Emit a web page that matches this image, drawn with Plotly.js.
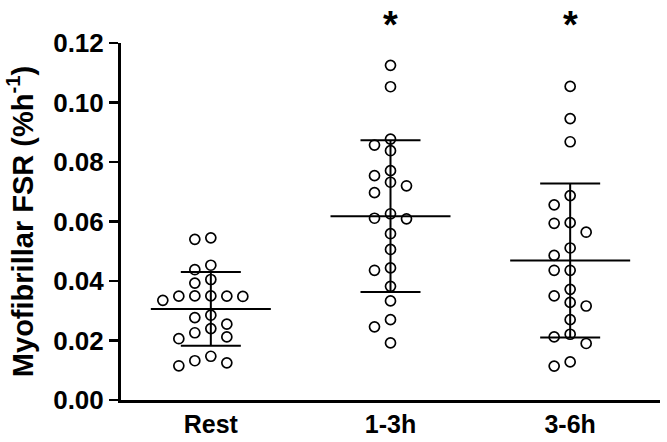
<!DOCTYPE html>
<html>
<head>
<meta charset="utf-8">
<script src="https://cdn.plot.ly/plotly-3.0.1.min.js"></script>
<style>html,body{margin:0;padding:0;background:#fff;}#chart{width:667px;height:442px;}</style>
</head>
<body>
<div id="chart"></div>
<script>
// ---- data ----
const categories = ["Rest", "1-3h", "3-6h"];
const restValues = [0.0545, 0.0540, 0.0453, 0.0438, 0.0405, 0.0393, 0.0349, 0.0349, 0.0348, 0.0350, 0.0350, 0.0335,
  0.0285, 0.0277, 0.0255, 0.0240, 0.0226, 0.0212, 0.0206, 0.0147, 0.0132, 0.0125, 0.0115];
const earlyValues = [0.1125, 0.1053, 0.0877, 0.0857, 0.0838, 0.0771, 0.0754, 0.0732, 0.0720, 0.0697, 0.0626,
  0.0611, 0.0609, 0.0559, 0.0506, 0.0444, 0.0436, 0.0382, 0.0333, 0.0270, 0.0246, 0.0192];
const lateValues = [0.1054, 0.0946, 0.0868, 0.0687, 0.0656, 0.0596, 0.0594, 0.0564, 0.0511, 0.0486, 0.0436,
  0.0436, 0.0372, 0.0350, 0.0328, 0.0316, 0.0270, 0.0221, 0.0212, 0.0190, 0.0128, 0.0114];
const means = [0.0306, 0.0618, 0.0469];
const sds = [0.0124, 0.0255, 0.0259];
const significance = ["", "*", "*"];
const yTicks = [0, 0.02, 0.04, 0.06, 0.08, 0.10, 0.12];

// ---- layout geometry (px) ----
const W = 667, H = 442;
const M = {l: 121, r: 7, t: 43, b: 42};
const xRange = [-0.5, 2.5];
const yRange = [0, 0.12];
const plotW = W - M.l - M.r, plotH = H - M.t - M.b;
const pxPerX = plotW / (xRange[1] - xRange[0]);
const pxPerY = plotH / (yRange[1] - yRange[0]);
const slotPx = 16, minGapPx = 11.5;

// greedy beeswarm: offsets computed from values via the axis scales
function swarm(values, center) {
  const order = values.map((v, i) => i).sort((a, b) => values[b] - values[a]);
  const placed = [];
  const xs = new Array(values.length);
  order.forEach(i => {
    const y = values[i] * pxPerY;
    for (let n = 0; n < 20; n++) {
      const k = n === 0 ? 0 : (n % 2 === 1 ? -Math.ceil(n / 2) : Math.ceil(n / 2));
      const clash = placed.some(p => p.k === k && Math.abs(p.y - y) < minGapPx);
      if (!clash) { placed.push({k, y}); xs[i] = center + k * slotPx / pxPerX; break; }
    }
  });
  return xs;
}

const groups = [restValues, earlyValues, lateValues];
const font = "Liberation Sans, Arial, Helvetica, sans-serif";
const traces = [];

groups.forEach((vals, g) => {
  traces.push({
    type: "scatter", mode: "markers", x: swarm(vals, g), y: vals,
    marker: {symbol: "circle-open", size: 10, color: "#000", line: {width: 1.7, color: "#000"}},
    hoverinfo: "y", showlegend: false, cliponaxis: false
  });
});

// SD bars
traces.push({
  type: "scatter", mode: "markers", x: [0, 1, 2], y: means,
  marker: {size: 1, color: "rgba(0,0,0,0)"},
  error_y: {type: "data", array: sds, visible: true, color: "#000", thickness: 2, width: 30},
  showlegend: false, hoverinfo: "skip"
});
// mean lines
const halfMean = 60 / pxPerX;
const mx = [], my = [];
means.forEach((m, g) => { mx.push(g - halfMean, g + halfMean, null); my.push(m, m, null); });
traces.push({type: "scatter", mode: "lines", x: mx, y: my, line: {color: "#000", width: 2},
  showlegend: false, hoverinfo: "skip"});

const annotations = [];
significance.forEach((s, g) => {
  if (s) annotations.push({x: g, xref: "x", y: 1 + (M.t - 2) / plotH, yref: "paper", text: s, showarrow: false,
    yanchor: "top", font: {family: font, size: 38, color: "#000", weight: "bold"}});
});

const layout = {
  width: W, height: H,
  margin: M,
  paper_bgcolor: "#fff", plot_bgcolor: "#fff",
  showlegend: false,
  font: {family: font, color: "#000"},
  xaxis: {
    range: xRange, tickvals: [0, 1, 2], ticktext: categories,
    showgrid: false, zeroline: false, showline: true, linecolor: "#000", linewidth: 3,
    ticks: "", tickfont: {family: font, size: 25, color: "#000", weight: "bold"}
  },
  yaxis: {
    range: yRange, tickvals: yTicks, tickformat: ".2f",
    showgrid: false, zeroline: false, showline: true, linecolor: "#000", linewidth: 3,
    ticks: "outside", ticklen: 9, tickwidth: 2.5, tickcolor: "#000",
    tickfont: {family: font, size: 26, color: "#000", weight: "bold"},
    title: {text: "Myofibrillar FSR (%h<sup>-1</sup>)", standoff: 12,
      font: {family: font, size: 29, color: "#000", weight: "bold"}}
  },
  annotations: annotations
};

Plotly.newPlot("chart", traces, layout, {displayModeBar: false, staticPlot: true});
</script>
</body>
</html>
